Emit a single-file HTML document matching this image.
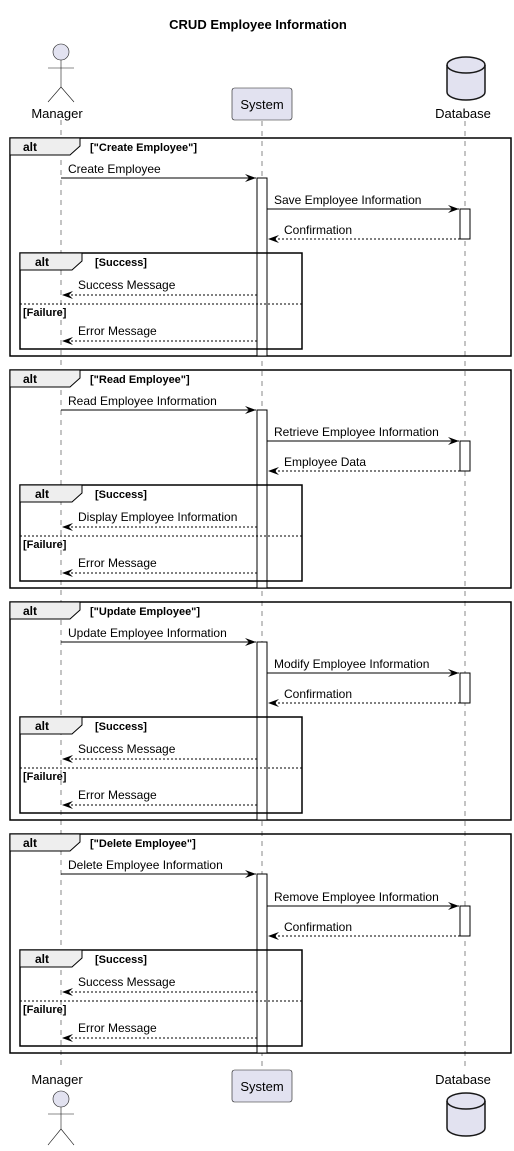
<!DOCTYPE html>
<html><head><meta charset="utf-8"><style>
html,body{margin:0;padding:0;background:#fff;}
svg{display:block;}
text{font-family:"Liberation Sans",sans-serif;font-size:12px;fill:#000;}
.b{font-weight:bold;font-size:11px;}
.ll{stroke:#888;stroke-width:1;stroke-dasharray:5,5;}
.m{stroke:#000;stroke-width:1;fill:none;}
.d{stroke:#000;stroke-width:1;fill:none;stroke-dasharray:2,2;}
</style></head><body>
<svg width="514" height="1151" viewBox="0 0 514 1151" xmlns="http://www.w3.org/2000/svg">
<defs>
<marker id="ah" markerWidth="12" markerHeight="10" refX="11" refY="5" orient="auto" markerUnits="userSpaceOnUse">
<path d="M0,1 L11,5 L0,9 L4,5 Z" fill="#000"/>
</marker>
<marker id="oh" markerWidth="12" markerHeight="10" refX="1" refY="5" orient="auto" markerUnits="userSpaceOnUse">
<path d="M11,1 L1,5 L11,9" fill="none" stroke="#000" stroke-width="1"/>
</marker>
<g id="tabs"></g>
</defs>
<text x="258" y="29" text-anchor="middle" style="font-weight:bold;font-size:13px">CRUD Employee Information</text>

<!-- lifelines -->
<line class="ll" x1="61" y1="120" x2="61" y2="1070"/>
<line class="ll" x1="262" y1="121" x2="262" y2="1070"/>
<line class="ll" x1="465" y1="121" x2="465" y2="1070"/>

<!-- top participants -->
<g fill="#e2e2f0" stroke="#181818" stroke-width="0.6">
<circle cx="61" cy="52" r="8"/>
<line x1="61" y1="60" x2="61" y2="87"/><line x1="48" y1="68" x2="74" y2="68"/>
<line x1="61" y1="87" x2="48" y2="102"/><line x1="61" y1="87" x2="74" y2="102"/>
<rect x="232" y="88" width="60" height="32" rx="2.5"/>
</g>
<text x="57" y="118" text-anchor="middle" style="font-size:13px">Manager</text>
<text x="262" y="109" text-anchor="middle" style="font-size:13px">System</text>
<text x="463" y="118" text-anchor="middle" style="font-size:13px">Database</text>
<g stroke="#181818" stroke-width="1.5" fill="#e2e2f0">
<path d="M447,65 A19,8 0 0 1 485,65 V92 A19,8 0 0 1 447,92 Z"/>
<path d="M447,65 A19,8 0 0 0 485,65" fill="none"/>
</g>

<!-- bottom participants -->
<text x="57" y="1084" text-anchor="middle" style="font-size:13px">Manager</text>
<g fill="#e2e2f0" stroke="#181818" stroke-width="0.6">
<rect x="232" y="1070" width="60" height="32" rx="2.5"/>
<circle cx="61" cy="1099" r="8"/>
<line x1="61" y1="1107" x2="61" y2="1129"/><line x1="48" y1="1114" x2="74" y2="1114"/>
<line x1="61" y1="1129" x2="48" y2="1145"/><line x1="61" y1="1129" x2="74" y2="1145"/>
</g>
<text x="262" y="1091" text-anchor="middle" style="font-size:13px">System</text>
<text x="463" y="1084" text-anchor="middle" style="font-size:13px">Database</text>
<g stroke="#181818" stroke-width="1.5" fill="#e2e2f0">
<path d="M447,1101 A19,8 0 0 1 485,1101 V1128 A19,8 0 0 1 447,1128 Z"/>
<path d="M447,1101 A19,8 0 0 0 485,1101" fill="none"/>
</g>

<!-- Block 1 -->
<g transform="translate(0,138)">
<rect x="10" y="0" width="501" height="218" fill="none" stroke="#000" stroke-width="1.5"/>
<path d="M10,0 H80 V8 L70,17 H10 Z" fill="#eee" stroke="#000" stroke-width="1"/>
<text x="23" y="13" style="font-weight:bold;font-size:12px">alt</text><text class="b" x="90" y="13">["Create Employee"]</text>
<rect x="257" y="40" width="10" height="178" fill="#fff" stroke="#000"/>
<line class="m" x1="61" y1="40" x2="256" y2="40" marker-end="url(#ah)"/>
<text x="68" y="35">Create Employee</text>
<line class="m" x1="267" y1="71" x2="459" y2="71" marker-end="url(#ah)"/>
<text x="274" y="66">Save Employee Information</text>
<rect x="460" y="71" width="10" height="30" fill="#fff" stroke="#000"/>
<line class="d" x1="460" y1="101" x2="268" y2="101" marker-end="url(#ah)"/>
<text x="284" y="96">Confirmation</text>
<rect x="20" y="115" width="282" height="96" fill="none" stroke="#000" stroke-width="1.5"/>
<path d="M20,115 H82 V123 L72,132 H20 Z" fill="#eee" stroke="#000" stroke-width="1"/>
<text x="35" y="128" style="font-weight:bold;font-size:12px">alt</text><text class="b" x="95" y="128">[Success]</text>
<line class="d" x1="257" y1="157" x2="62" y2="157" marker-end="url(#ah)"/>
<text x="78" y="151">Success Message</text>
<line class="d" x1="20" y1="166" x2="302" y2="166"/>
<text class="b" x="23" y="178">[Failure]</text>
<line class="d" x1="257" y1="203" x2="62" y2="203" marker-end="url(#ah)"/>
<text x="78" y="197">Error Message</text>
</g>

<!-- Block 2 -->
<g transform="translate(0,370)">
<rect x="10" y="0" width="501" height="218" fill="none" stroke="#000" stroke-width="1.5"/>
<path d="M10,0 H80 V8 L70,17 H10 Z" fill="#eee" stroke="#000" stroke-width="1"/>
<text x="23" y="13" style="font-weight:bold;font-size:12px">alt</text><text class="b" x="90" y="13">["Read Employee"]</text>
<rect x="257" y="40" width="10" height="178" fill="#fff" stroke="#000"/>
<line class="m" x1="61" y1="40" x2="256" y2="40" marker-end="url(#ah)"/>
<text x="68" y="35">Read Employee Information</text>
<line class="m" x1="267" y1="71" x2="459" y2="71" marker-end="url(#ah)"/>
<text x="274" y="66">Retrieve Employee Information</text>
<rect x="460" y="71" width="10" height="30" fill="#fff" stroke="#000"/>
<line class="d" x1="460" y1="101" x2="268" y2="101" marker-end="url(#ah)"/>
<text x="284" y="96">Employee Data</text>
<rect x="20" y="115" width="282" height="96" fill="none" stroke="#000" stroke-width="1.5"/>
<path d="M20,115 H82 V123 L72,132 H20 Z" fill="#eee" stroke="#000" stroke-width="1"/>
<text x="35" y="128" style="font-weight:bold;font-size:12px">alt</text><text class="b" x="95" y="128">[Success]</text>
<line class="d" x1="257" y1="157" x2="62" y2="157" marker-end="url(#ah)"/>
<text x="78" y="151">Display Employee Information</text>
<line class="d" x1="20" y1="166" x2="302" y2="166"/>
<text class="b" x="23" y="178">[Failure]</text>
<line class="d" x1="257" y1="203" x2="62" y2="203" marker-end="url(#ah)"/>
<text x="78" y="197">Error Message</text>
</g>

<!-- Block 3 -->
<g transform="translate(0,602)">
<rect x="10" y="0" width="501" height="218" fill="none" stroke="#000" stroke-width="1.5"/>
<path d="M10,0 H80 V8 L70,17 H10 Z" fill="#eee" stroke="#000" stroke-width="1"/>
<text x="23" y="13" style="font-weight:bold;font-size:12px">alt</text><text class="b" x="90" y="13">["Update Employee"]</text>
<rect x="257" y="40" width="10" height="178" fill="#fff" stroke="#000"/>
<line class="m" x1="61" y1="40" x2="256" y2="40" marker-end="url(#ah)"/>
<text x="68" y="35">Update Employee Information</text>
<line class="m" x1="267" y1="71" x2="459" y2="71" marker-end="url(#ah)"/>
<text x="274" y="66">Modify Employee Information</text>
<rect x="460" y="71" width="10" height="30" fill="#fff" stroke="#000"/>
<line class="d" x1="460" y1="101" x2="268" y2="101" marker-end="url(#ah)"/>
<text x="284" y="96">Confirmation</text>
<rect x="20" y="115" width="282" height="96" fill="none" stroke="#000" stroke-width="1.5"/>
<path d="M20,115 H82 V123 L72,132 H20 Z" fill="#eee" stroke="#000" stroke-width="1"/>
<text x="35" y="128" style="font-weight:bold;font-size:12px">alt</text><text class="b" x="95" y="128">[Success]</text>
<line class="d" x1="257" y1="157" x2="62" y2="157" marker-end="url(#ah)"/>
<text x="78" y="151">Success Message</text>
<line class="d" x1="20" y1="166" x2="302" y2="166"/>
<text class="b" x="23" y="178">[Failure]</text>
<line class="d" x1="257" y1="203" x2="62" y2="203" marker-end="url(#ah)"/>
<text x="78" y="197">Error Message</text>
</g>

<!-- Block 4 -->
<g transform="translate(0,834)">
<rect x="10" y="0" width="501" height="219" fill="none" stroke="#000" stroke-width="1.5"/>
<path d="M10,0 H80 V8 L70,17 H10 Z" fill="#eee" stroke="#000" stroke-width="1"/>
<text x="23" y="13" style="font-weight:bold;font-size:12px">alt</text><text class="b" x="90" y="13">["Delete Employee"]</text>
<rect x="257" y="40" width="10" height="179" fill="#fff" stroke="#000"/>
<line class="m" x1="61" y1="40" x2="256" y2="40" marker-end="url(#ah)"/>
<text x="68" y="35">Delete Employee Information</text>
<line class="m" x1="267" y1="72" x2="459" y2="72" marker-end="url(#ah)"/>
<text x="274" y="67">Remove Employee Information</text>
<rect x="460" y="72" width="10" height="30" fill="#fff" stroke="#000"/>
<line class="d" x1="460" y1="102" x2="268" y2="102" marker-end="url(#ah)"/>
<text x="284" y="97">Confirmation</text>
<rect x="20" y="116" width="282" height="96" fill="none" stroke="#000" stroke-width="1.5"/>
<path d="M20,116 H82 V124 L72,133 H20 Z" fill="#eee" stroke="#000" stroke-width="1"/>
<text x="35" y="129" style="font-weight:bold;font-size:12px">alt</text><text class="b" x="95" y="129">[Success]</text>
<line class="d" x1="257" y1="158" x2="62" y2="158" marker-end="url(#ah)"/>
<text x="78" y="152">Success Message</text>
<line class="d" x1="20" y1="167" x2="302" y2="167"/>
<text class="b" x="23" y="179">[Failure]</text>
<line class="d" x1="257" y1="204" x2="62" y2="204" marker-end="url(#ah)"/>
<text x="78" y="198">Error Message</text>
</g>
</svg>
</body></html>
